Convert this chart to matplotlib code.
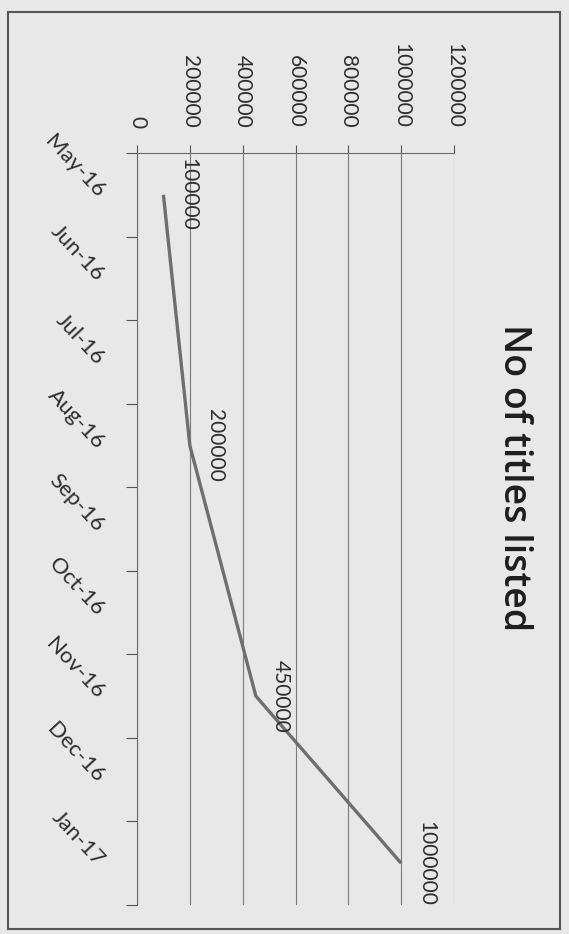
import matplotlib
matplotlib.use("Agg")
import matplotlib.pyplot as plt
from matplotlib.patches import Rectangle
import numpy as np

# data (the scanned chart is turned 90 degrees clockwise)
months = ['May-16', 'Jun-16', 'Jul-16', 'Aug-16', 'Sep-16',
          'Oct-16', 'Nov-16', 'Dec-16', 'Jan-17']
point_months = ['May-16', 'Aug-16', 'Nov-16', 'Jan-17']
titles_listed = [100000, 200000, 450000, 1000000]
value_ticks = [0, 200000, 400000, 600000, 800000, 1000000, 1200000]
chart_title = 'No of titles listed'

bg = '#e8e8e8'
ink = '#2e2e2e'
plt.rcParams['font.family'] = ['Lato', 'DejaVu Sans']

fig = plt.figure(figsize=(5.69, 9.34), dpi=100, facecolor=bg)
ax = fig.add_axes([137/569, 1 - 905/934, 317/569, 752/934], facecolor=bg)

pos = [months.index(m) for m in point_months]
ax.plot(titles_listed, pos, color='#6e6e6e', lw=2.4, solid_capstyle='butt')

# data labels ("above" the points in the unrotated chart)
for v, p in zip(titles_listed, pos):
    ax.annotate(str(v), (v, p), xytext=(18, 0), textcoords='offset points',
                rotation=-90, ha='center', va='center', fontsize=15, color=ink)

# value axis on top
ax.set_xlim(0, 1200000)
ax.xaxis.tick_top()
ax.set_xticks(value_ticks)
ax.set_xticklabels([str(v) for v in value_ticks], rotation=-90)
ax.tick_params(axis='x', length=6, width=0.8, color='#555555', pad=12,
               labelsize=15, labelcolor=ink)
ax.grid(axis='x', color='#7a7a7a', lw=0.8)

# category axis on the left
ax.set_ylim(len(months) - 0.5, -0.5)
ax.set_yticks(range(len(months)))
ax.set_yticklabels(months)
ax.set_yticks(np.arange(-0.5, len(months)), minor=True)
ax.tick_params(axis='y', which='major', length=0, pad=26, labelsize=16,
               labelcolor=ink)
ax.tick_params(axis='y', which='minor', length=8, width=0.8, color='#555555')
for lbl in ax.get_yticklabels():
    lbl.set_rotation(-47)
    lbl.set_rotation_mode('anchor')
    lbl.set_ha('right')
    lbl.set_va('center')

for side in ['right', 'bottom']:
    ax.spines[side].set_visible(False)
for side in ['left', 'top']:
    ax.spines[side].set_color('#6a6a6a')
    ax.spines[side].set_linewidth(0.8)

fig.text(514/569, 1 - 478/934, chart_title, rotation=-90, ha='center',
         va='center', fontsize=27, fontweight='semibold',
         family=['Open Sans', 'DejaVu Sans'], color='#1e1e1e')

# chart border
fig.patches.append(Rectangle((8/569, 1 - 929/934), 552/569, 917/934,
                             transform=fig.transFigure, fill=False,
                             edgecolor='#555555', lw=1.5))

fig.savefig('out.png', dpi=100, facecolor=bg)
